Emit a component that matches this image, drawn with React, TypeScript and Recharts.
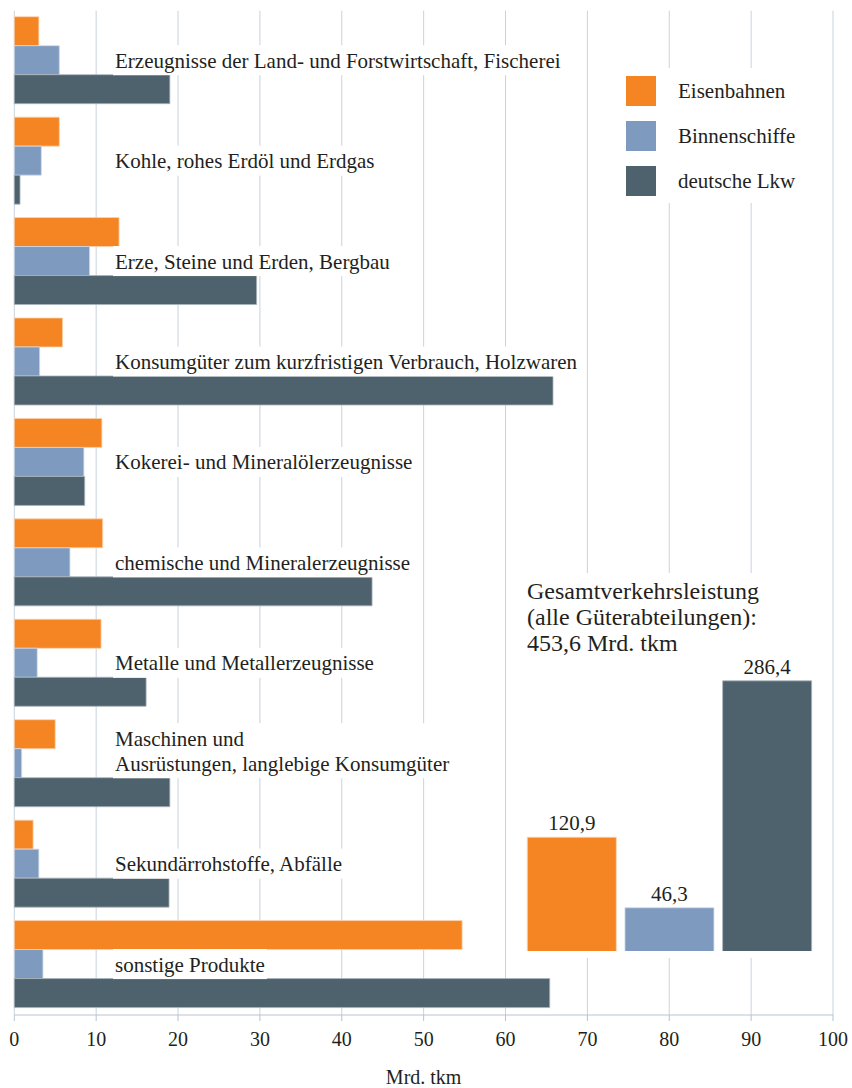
import React from 'react';
import { BarChart, Bar, XAxis, YAxis, CartesianGrid, Legend, LabelList, Cell } from 'recharts';

const categories = [
  'Erzeugnisse der Land- und Forstwirtschaft, Fischerei',
  'Kohle, rohes Erdöl und Erdgas',
  'Erze, Steine und Erden, Bergbau',
  'Konsumgüter zum kurzfristigen Verbrauch, Holzwaren',
  'Kokerei- und Mineralölerzeugnisse',
  'chemische und Mineralerzeugnisse',
  'Metalle und Metallerzeugnisse',
  'Maschinen und\nAusrüstungen, langlebige Konsumgüter',
  'Sekundärrohstoffe, Abfälle',
  'sonstige Produkte',
];
const eisenbahnen = [3.0, 5.5, 12.8, 5.9, 10.7, 10.8, 10.6, 5.0, 2.3, 54.7];
const binnenschiffe = [5.5, 3.3, 9.2, 3.1, 8.5, 6.8, 2.8, 0.9, 3.0, 3.5];
const lkw = [19.0, 0.7, 29.6, 65.8, 8.6, 43.7, 16.1, 19.0, 18.9, 65.4];
const xTicks = [0, 10, 20, 30, 40, 50, 60, 70, 80, 90, 100];

const modes = ['Eisenbahnen', 'Binnenschiffe', 'deutsche Lkw'];
const totals = [120.9, 46.3, 286.4];
const colors = ['#f48522', '#7e9bbf', '#4e626d'];
const outlines = ['#fbd3b0', '#cfdae8', '#a9b4bb'];

const data = categories.map((name, i) => ({
  name,
  eisenbahnen: eisenbahnen[i],
  binnenschiffe: binnenschiffe[i],
  lkw: lkw[i],
}));
const totalData = modes.map((mode, i) => ({ mode, value: totals[i] }));

const FONT = '"Liberation Serif", "Times New Roman", serif';
const TEXT = '#231f20';

// canvas is only used to size the white box behind each label
let ctx: CanvasRenderingContext2D | null = null;
function textWidth(s: string) {
  if (!ctx && typeof document !== 'undefined') ctx = document.createElement('canvas').getContext('2d');
  if (!ctx) return s.length * 9.5;
  ctx.font = '21px "Liberation Serif"';
  return ctx.measureText(s).width;
}

const renderCategoryLabel = (props: any) => {
  const { x, y, height, value } = props;
  const lines = String(value).split('\n');
  const cy = Number(y) + Number(height) / 2;
  const left = Number(x) + 100.7;
  const w = Math.max(...lines.map(textWidth));
  const extra = (lines.length - 1) * 25;
  return (
    <g>
      <rect x={left - 2} y={cy - 15 - extra} width={w + 4} height={30 + extra} fill="#fff" />
      {lines.map((l, i) => (
        <text
          key={i}
          x={left}
          y={cy + 7.5 - (lines.length - 1 - i) * 25}
          fontSize={21}
          fontFamily={FONT}
          fill={TEXT}
        >
          {l}
        </text>
      ))}
    </g>
  );
};

// recharts 3 sorts legend items by name, so put them back in series order
const renderLegend = (props: any) => {
  const payload = [...(props.payload || [])].sort(
    (a: any, b: any) => modes.indexOf(a.value) - modes.indexOf(b.value)
  );
  return (
    <div style={{ background: '#fff', width: 222, height: 135, position: 'relative', fontFamily: FONT }}>
      {payload.map((p: any, i: number) => (
        <div
          key={p.value}
          style={{ position: 'absolute', left: 26, top: 8 + i * 45, display: 'flex', alignItems: 'center', height: 30 }}
        >
          <span style={{ width: 30, height: 30, background: p.color, display: 'inline-block' }} />
          <span style={{ marginLeft: 22, fontSize: 21, color: TEXT, whiteSpace: 'nowrap', lineHeight: '30px' }}>
            {p.value}
          </span>
        </div>
      ))}
    </div>
  );
};

export default function App() {
  return (
    <div style={{ position: 'absolute', left: 0, top: 0, width: 852, height: 1088, background: '#fff' }}>
      <BarChart
        width={852}
        height={1088}
        data={data}
        layout="vertical"
        margin={{ top: 10.7, right: 19, bottom: 0, left: 14.3 }}
        barCategoryGap={6}
        barGap={0}
      >
        <CartesianGrid horizontal={false} stroke="#c9d2dc" />
        <XAxis
          type="number"
          domain={[0, 100]}
          ticks={xTicks}
          interval={0}
          height={73}
          tickSize={6}
          tickMargin={11}
          stroke="#b9c3cd"
          tick={{ fontSize: 20, fontFamily: FONT, fill: TEXT }}
          label={{ value: 'Mrd. tkm', position: 'insideBottom', offset: 4, fontSize: 20, fontFamily: FONT, fill: TEXT }}
        />
        <XAxis
          xAxisId="top"
          orientation="top"
          type="number"
          domain={[0, 100]}
          height={0}
          tick={false}
          tickLine={false}
          stroke="#dbe1e7"
        />
        <YAxis type="category" dataKey="name" width={0} tick={false} tickLine={false} stroke="#c2cad3" />
        <Legend
          layout="horizontal"
          verticalAlign="middle"
          align="center"
          wrapperStyle={{ left: 600, top: 68, width: 222, height: 135 }}
          content={renderLegend}
        />
        <Bar dataKey="eisenbahnen" name={modes[0]} fill={colors[0]} stroke={outlines[0]} strokeWidth={0.8} isAnimationActive={false} />
        <Bar dataKey="binnenschiffe" name={modes[1]} fill={colors[1]} stroke={outlines[1]} strokeWidth={0.8} isAnimationActive={false}>
          <LabelList dataKey="name" content={renderCategoryLabel} />
        </Bar>
        <Bar dataKey="lkw" name={modes[2]} fill={colors[2]} stroke={outlines[2]} strokeWidth={0.8} isAnimationActive={false} />
      </BarChart>

      <div
        style={{
          position: 'absolute',
          left: 515,
          top: 573,
          width: 310,
          height: 385,
          background: '#fff',
          fontFamily: FONT,
          color: TEXT,
        }}
      >
        <div style={{ position: 'absolute', left: 12, top: 5, fontSize: 24, lineHeight: '26px', whiteSpace: 'nowrap' }}>
          Gesamtverkehrsleistung
          <br />
          (alle Güterabteilungen):
          <br />
          453,6 Mrd. tkm
        </div>
        <div style={{ position: 'absolute', left: 8.4, top: 64.5 }}>
          <BarChart
            width={293}
            height={313.5}
            data={totalData}
            margin={{ top: 30, right: 0, bottom: 0, left: 0 }}
            barCategoryGap={4.3}
          >
            <XAxis dataKey="mode" hide />
            <YAxis domain={[0, 300]} hide />
            <Bar dataKey="value" isAnimationActive={false} strokeWidth={0.8}>
              {totalData.map((d, i) => (
                <Cell key={d.mode} fill={colors[i]} stroke={outlines[i]} />
              ))}
              <LabelList
                dataKey="value"
                position="top"
                offset={7}
                formatter={(v: any) => String(v).replace('.', ',')}
                style={{ fontSize: 21, fontFamily: FONT, fill: TEXT }}
              />
            </Bar>
          </BarChart>
        </div>
      </div>
    </div>
  );
}
